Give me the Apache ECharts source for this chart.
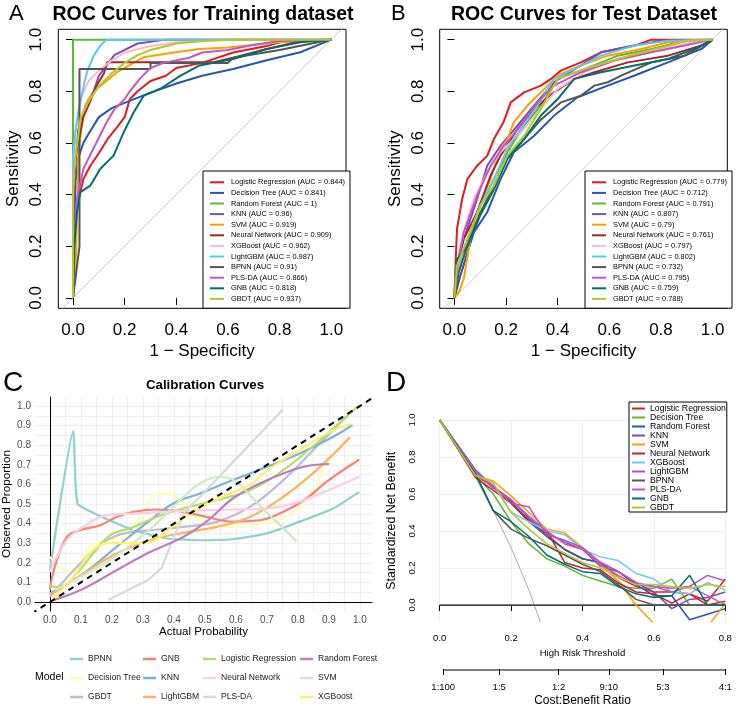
<!DOCTYPE html>
<html>
<head>
<meta charset="utf-8">
<script src="https://cdn.jsdelivr.net/npm/echarts@6/dist/echarts.min.js"></script>
<style>html,body{margin:0;padding:0;background:#fff}#main{width:738px;height:711px}</style>
</head>
<body>
<div id="main"></div>
<script>
// models as listed in the ROC / DCA legends
var models = ['Logistic Regression', 'Decision Tree', 'Random Forest', 'KNN', 'SVM', 'Neural Network',
    'XGBoost', 'LightGBM', 'BPNN', 'PLS-DA', 'GNB', 'GBDT'];
var aucTrain = ['0.844', '0.841', '1', '0.96', '0.919', '0.909', '0.962', '0.987', '0.91', '0.866', '0.818', '0.937'];
var aucTest = ['0.779', '0.712', '0.791', '0.807', '0.79', '0.761', '0.797', '0.802', '0.732', '0.795', '0.759', '0.788'];

// ROC points [1-specificity, sensitivity], same order as models
var rocTrain = [
    [[0,0],[0.005,0.2],[0.015,0.35],[0.04,0.46],[0.066,0.51],[0.1,0.56],[0.137,0.62],[0.17,0.66],[0.2,0.7],[0.22,0.77],[0.25,0.8],[0.3,0.84],[0.36,0.86],[0.4,0.89],[0.5,0.91],[0.62,0.95],[0.75,0.975],[0.82,0.995],[1,1]],
    [[0,0],[0.005,0.3],[0.01,0.45],[0.02,0.54],[0.04,0.6],[0.06,0.635],[0.1,0.7],[0.15,0.735],[0.2,0.755],[0.3,0.795],[0.4,0.83],[0.5,0.86],[0.62,0.886],[0.75,0.92],[0.88,0.951],[1,1]],
    [[0,0],[0,1],[1,1]],
    [[0,0],[0.005,0.45],[0.02,0.65],[0.05,0.75],[0.08,0.8],[0.1,0.86],[0.13,0.9],[0.16,0.94],[0.2,0.96],[0.25,0.985],[0.36,1],[1,1]],
    [[0,0],[0.01,0.1],[0.015,0.3],[0.02,0.55],[0.04,0.72],[0.06,0.77],[0.093,0.81],[0.17,0.874],[0.274,0.932],[0.39,0.95],[0.49,0.964],[0.6,0.97],[0.8,0.99],[1,1]],
    [[0,0],[0,0.5],[0.02,0.6],[0.04,0.7],[0.07,0.77],[0.09,0.82],[0.12,0.87],[0.132,0.912],[0.54,0.912],[0.62,0.93],[0.75,0.964],[0.88,0.994],[1,1]],
    [[0,0],[0,0.4],[0.01,0.65],[0.03,0.77],[0.06,0.84],[0.1,0.88],[0.15,0.92],[0.2,0.95],[0.3,0.975],[0.4,0.99],[0.62,1],[1,1]],
    [[0,0],[0,0.55],[0.009,0.641],[0.022,0.73],[0.041,0.82],[0.054,0.874],[0.08,0.938],[0.106,0.977],[0.13,1],[1,1]],
    [[0,0],[0.025,0.2],[0.025,0.886],[0.3,0.886],[0.3,0.91],[0.6,0.91],[0.62,0.93],[0.8,0.96],[0.9,0.98],[1,1]],
    [[0,0],[0.005,0.2],[0.015,0.38],[0.04,0.5],[0.07,0.56],[0.1,0.62],[0.13,0.68],[0.16,0.73],[0.2,0.77],[0.22,0.8],[0.26,0.85],[0.3,0.89],[0.35,0.91],[0.45,0.93],[0.5,0.95],[0.6,0.96],[0.7,0.98],[0.8,0.995],[1,1]],
    [[0,0],[0.005,0.2],[0.015,0.33],[0.028,0.41],[0.067,0.435],[0.106,0.5],[0.157,0.551],[0.196,0.641],[0.235,0.719],[0.274,0.783],[0.338,0.81],[0.415,0.86],[0.49,0.9],[0.62,0.925],[0.75,0.964],[0.88,0.99],[1,1]],
    [[0,0],[0,0.45],[0.01,0.55],[0.03,0.7],[0.06,0.76],[0.1,0.82],[0.15,0.87],[0.2,0.91],[0.25,0.94],[0.3,0.96],[0.4,0.985],[0.5,0.995],[0.6,1],[1,1]]
];
var rocTest = [
    [[0,0],[0.004,0.125],[0.01,0.267],[0.03,0.383],[0.05,0.46],[0.088,0.512],[0.127,0.55],[0.153,0.615],[0.19,0.68],[0.218,0.757],[0.27,0.796],[0.335,0.822],[0.374,0.848],[0.412,0.88],[0.49,0.912],[0.568,0.951],[0.698,0.977],[0.763,1],[1,1]],
    [[0,0],[0.023,0.086],[0.075,0.254],[0.127,0.332],[0.179,0.46],[0.23,0.564],[0.309,0.628],[0.386,0.706],[0.477,0.777],[0.594,0.822],[0.698,0.861],[0.827,0.912],[0.957,0.964],[1,1]],
    [[0,0],[0.01,0.1],[0.05,0.215],[0.1,0.357],[0.153,0.46],[0.205,0.564],[0.27,0.667],[0.335,0.745],[0.4,0.848],[0.503,0.886],[0.633,0.938],[0.763,0.964],[0.892,0.996],[1,1]],
    [[0,0],[0.004,0.1],[0.036,0.228],[0.088,0.383],[0.127,0.512],[0.179,0.59],[0.244,0.667],[0.309,0.745],[0.386,0.835],[0.49,0.9],[0.568,0.951],[0.698,0.977],[0.8,0.996],[1,1]],
    [[0,0],[0.017,0.022],[0.036,0.074],[0.062,0.228],[0.088,0.332],[0.14,0.46],[0.179,0.577],[0.205,0.615],[0.23,0.68],[0.283,0.745],[0.335,0.796],[0.4,0.861],[0.49,0.9],[0.594,0.938],[0.724,0.964],[0.827,0.99],[1,1]],
    [[0,0],[0.008,0.125],[0.036,0.228],[0.088,0.332],[0.14,0.474],[0.179,0.551],[0.244,0.654],[0.309,0.732],[0.386,0.796],[0.464,0.848],[0.542,0.874],[0.672,0.912],[0.827,0.938],[0.957,0.977],[1,1]],
    [[0,0],[0.008,0.125],[0.036,0.254],[0.075,0.383],[0.127,0.486],[0.179,0.564],[0.257,0.641],[0.335,0.732],[0.4,0.809],[0.503,0.874],[0.633,0.925],[0.8,0.964],[0.957,0.996],[1,1]],
    [[0,0],[0.01,0.1],[0.05,0.228],[0.1,0.357],[0.153,0.46],[0.205,0.577],[0.257,0.654],[0.322,0.745],[0.386,0.848],[0.464,0.886],[0.568,0.938],[0.698,0.977],[0.827,0.996],[1,1]],
    [[0,0],[0.017,0.1],[0.05,0.2],[0.1,0.33],[0.153,0.435],[0.205,0.55],[0.257,0.6],[0.335,0.69],[0.412,0.757],[0.49,0.783],[0.542,0.822],[0.594,0.835],[0.646,0.861],[0.763,0.912],[0.892,0.938],[1,1]],
    [[0,0],[0.008,0.112],[0.036,0.254],[0.088,0.396],[0.14,0.512],[0.192,0.59],[0.257,0.667],[0.322,0.757],[0.386,0.822],[0.49,0.874],[0.62,0.919],[0.763,0.951],[0.892,0.977],[1,1]],
    [[0,0],[0.01,0.15],[0.05,0.2],[0.1,0.32],[0.153,0.42],[0.205,0.538],[0.27,0.615],[0.335,0.706],[0.4,0.77],[0.464,0.848],[0.568,0.874],[0.698,0.9],[0.827,0.925],[0.93,0.964],[1,1]],
    [[0,0],[0.01,0.125],[0.05,0.228],[0.1,0.357],[0.153,0.435],[0.205,0.551],[0.27,0.628],[0.335,0.732],[0.4,0.848],[0.503,0.886],[0.633,0.925],[0.776,0.964],[0.905,0.996],[1,1]]
];
var rocTicks = [0, 0.2, 0.4, 0.6, 0.8, 1];

// calibration curves [predicted, observed], alphabetical like the ggplot legend
var calibModels = ['BPNN', 'Decision Tree', 'GBDT', 'GNB', 'KNN', 'LightGBM', 'Logistic Regression',
    'Neural Network', 'PLS-DA', 'Random Forest', 'SVM', 'XGBoost'];
var calib = [
    [[0,0.163],[0.075,0.872],[0.089,0.503],[0.16,0.44],[0.27,0.366],[0.376,0.324],[0.484,0.315],[0.59,0.32],[0.7,0.35],[0.806,0.41],[0.914,0.477],[0.998,0.562]],
    [[0,0.231],[0.048,0.163],[0.081,0.158],[0.124,0.274],[0.17,0.31],[0.253,0.342],[0.3,0.45],[0.35,0.555],[0.39,0.55],[0.435,0.495],[0.5,0.4],[0.591,0.384],[0.68,0.4],[0.753,0.427],[0.839,0.546],[0.898,0.75]],
    [[0,0.026],[0.108,0.213],[0.183,0.315],[0.247,0.353],[0.323,0.366],[0.43,0.383],[0.538,0.409],[0.645,0.485],[0.753,0.622],[0.86,0.792],[0.957,0.946]],
    [[0,0.063],[0.016,0.18],[0.054,0.33],[0.097,0.366],[0.16,0.39],[0.215,0.434],[0.27,0.46],[0.344,0.472],[0.43,0.46],[0.505,0.434],[0.59,0.41],[0.677,0.417],[0.753,0.46],[0.828,0.528],[0.892,0.613],[0.998,0.727]],
    [[0,0.043],[0.108,0.145],[0.215,0.281],[0.323,0.417],[0.398,0.503],[0.484,0.554],[0.59,0.622],[0.7,0.69],[0.806,0.758],[0.914,0.843],[0.976,0.903]],
    [[0,0.034],[0.108,0.145],[0.215,0.247],[0.323,0.315],[0.43,0.353],[0.538,0.383],[0.645,0.434],[0.753,0.537],[0.86,0.673],[0.968,0.84]],
    [[0,0.08],[0.032,0.077],[0.086,0.145],[0.14,0.247],[0.194,0.34],[0.27,0.383],[0.344,0.434],[0.43,0.477],[0.538,0.52],[0.645,0.57],[0.753,0.673],[0.86,0.81],[0.914,0.886],[0.995,1]],
    [[0,0.153],[0.054,0.315],[0.108,0.383],[0.183,0.443],[0.27,0.451],[0.376,0.46],[0.484,0.468],[0.59,0.472],[0.7,0.477],[0.785,0.502],[0.86,0.545],[0.998,0.639]],
    [[0.188,0.01],[0.317,0.112],[0.36,0.172],[0.403,0.342],[0.435,0.46],[0.5,0.563],[0.753,0.985]],
    [[0.01,0.008],[0.108,0.068],[0.215,0.162],[0.323,0.255],[0.43,0.332],[0.505,0.41],[0.59,0.528],[0.677,0.605],[0.753,0.656],[0.828,0.693],[0.9,0.704]],
    [[0.016,0.06],[0.1,0.13],[0.2,0.22],[0.274,0.308],[0.33,0.38],[0.382,0.46],[0.44,0.55],[0.484,0.605],[0.548,0.639],[0.6,0.615],[0.645,0.546],[0.69,0.47],[0.731,0.41],[0.796,0.308]],
    [[0.011,0.019],[0.08,0.138],[0.134,0.257],[0.19,0.3],[0.27,0.3],[0.33,0.31],[0.4,0.39],[0.484,0.48],[0.59,0.56],[0.645,0.597],[0.7,0.67],[0.806,0.776],[0.914,0.877],[0.973,0.907]]
];
var calibTicks = [0, 0.1, 0.2, 0.3, 0.4, 0.5, 0.6, 0.7, 0.8, 0.9, 1];
var calibGrid = [0, 0.05, 0.1, 0.15, 0.2, 0.25, 0.3, 0.35, 0.4, 0.45, 0.5, 0.55, 0.6, 0.65, 0.7, 0.75, 0.8, 0.85, 0.9, 0.95, 1];

// decision curves: standardized net benefit at each threshold, same order as models
var dcaThresholds = [0, 0.1, 0.15, 0.2, 0.25, 0.3, 0.35, 0.4, 0.45, 0.5, 0.55, 0.6, 0.65, 0.7, 0.75, 0.8];
var dca = [
    [1, 0.70, 0.64, 0.55, 0.46, 0.38, 0.30, 0.25, 0.23, 0.15, 0.10, 0.07, 0.07, 0.06, 0.02, 0.14],
    [1, 0.70, 0.60, 0.45, 0.33, 0.25, 0.21, 0.16, 0.13, 0.10, 0.09, 0.09, 0.14, 0.00, 0.00, 0.00],
    [1, 0.73, 0.64, 0.56, 0.45, 0.37, 0.30, 0.25, 0.23, 0.18, 0.11, 0.05, 0.05, -0.08, -0.05, -0.02],
    [1, 0.73, 0.64, 0.57, 0.47, 0.39, 0.34, 0.30, 0.21, 0.18, 0.12, 0.07, -0.02, 0.03, 0.04, 0.07],
    [1, 0.70, 0.67, 0.59, 0.50, 0.41, 0.39, 0.31, 0.22, 0.13, 0.00, -0.10, -0.30, -0.30, -0.12, 0.01],
    [1, 0.69, 0.62, 0.55, 0.45, 0.40, 0.23, 0.20, 0.19, 0.12, 0.07, 0.06, 0.01, 0.06, 0.00, 0.02],
    [1, 0.72, 0.65, 0.50, 0.45, 0.40, 0.38, 0.30, 0.26, 0.24, 0.17, 0.14, 0.07, 0.06, 0.12, 0.08],
    [1, 0.72, 0.64, 0.55, 0.53, 0.38, 0.35, 0.31, 0.23, 0.18, 0.12, 0.10, 0.09, 0.10, 0.16, 0.13],
    [1, 0.71, 0.51, 0.41, 0.36, 0.32, 0.27, 0.22, 0.18, 0.11, 0.03, 0.00, 0.00, 0.00, 0.00, 0.00],
    [1, 0.72, 0.63, 0.57, 0.48, 0.40, 0.33, 0.30, 0.22, 0.16, 0.11, 0.10, 0.07, 0.10, 0.05, 0.00],
    [1, 0.71, 0.51, 0.45, 0.37, 0.27, 0.22, 0.18, 0.17, 0.10, 0.06, 0.04, 0.05, 0.16, 0.00, 0.00],
    [1, 0.70, 0.66, 0.50, 0.41, 0.33, 0.28, 0.23, 0.20, 0.15, 0.11, 0.11, 0.10, 0.09, 0.11, 0.10]
];
var treatAllX = [0, 0.1, 0.15, 0.2, 0.25, 0.3];
var treatAllY = [1, 0.69, 0.51, 0.31, 0.08, -0.19];
var dcaTicksX = [0, 0.2, 0.4, 0.6, 0.8];
var dcaTicksY = [0, 0.2, 0.4, 0.6, 0.8, 1];
var cbTicks = [0.0099, 0.1667, 0.3333, 0.4737, 0.625, 0.8];
var cbLabels = ['1:100', '1:5', '1:2', '9:10', '5:3', '4:1'];

var rocColors = ['#E41A1C', '#2656B0', '#5DB834', '#7A4DB8', '#FFA000', '#A8232B',
    '#FFB8C8', '#5CC8EC', '#555555', '#C954C5', '#00706E', '#B4C827'];
var dcaColors = ['#E41A1C', '#5DB834', '#2656B0', '#7A4DB8', '#FFA000', '#C4212E',
    '#66CCEE', '#B64FC6', '#555555', '#C954C5', '#00706E', '#B4C827'];
var calibColors = ['#8DD3C7', '#FFFFB3', '#BEBADA', '#FB8072', '#80B1D3', '#FDB462',
    '#B3DE69', '#FCCDE5', '#D9D9D9', '#BC80BD', '#CCEBC5', '#FFED6F'];

var FONT = '"Liberation Sans", Arial, sans-serif';
var chart = echarts.init(document.getElementById('main'));

function fmt1(v) { return v.toFixed(1); }

function rocX(gi) {
    return {
        gridIndex: gi, type: 'value', min: -0.057, max: 1.057,
        axisLine: { show: false },
        axisTick: { customValues: rocTicks, length: 7, lineStyle: { color: '#000' } },
        axisLabel: { customValues: rocTicks, formatter: fmt1, fontSize: 17, color: '#000', margin: 14, fontFamily: FONT },
        splitLine: { show: false },
        name: '1 − Specificity', nameLocation: 'middle', nameGap: 35,
        nameTextStyle: { fontSize: 17, color: '#000', fontFamily: FONT }
    };
}
function rocY(gi) {
    return {
        gridIndex: gi, type: 'value', min: -0.04, max: 1.04,
        axisLine: { show: false },
        axisTick: { customValues: rocTicks, length: 7, lineStyle: { color: '#000' } },
        axisLabel: { customValues: rocTicks, formatter: fmt1, rotate: 90, fontSize: 17, color: '#000', margin: 13, fontFamily: FONT },
        splitLine: { show: false },
        name: 'Sensitivity', nameLocation: 'middle', nameGap: 36,
        nameTextStyle: { fontSize: 17, color: '#000', fontFamily: FONT }
    };
}

var series = [];
var namesA = [], namesB = [], namesD = [];

[[rocTrain, aucTrain, 0, namesA], [rocTest, aucTest, 1, namesB]].forEach(function (p) {
    series.push({
        type: 'line', xAxisIndex: p[2], yAxisIndex: p[2], silent: true, showSymbol: false,
        data: [[-0.06, -0.06], [1.06, 1.06]], lineStyle: { color: '#BEBEBE', width: 0.8 }, z: 1
    });
    models.forEach(function (m, i) {
        var nm = m + ' (AUC = ' + p[1][i] + ')';
        p[3].push(nm);
        series.push({
            name: nm, type: 'line', xAxisIndex: p[2], yAxisIndex: p[2], showSymbol: false,
            data: p[0][i], color: rocColors[i], lineStyle: { width: 2 }, z: 2
        });
    });
});

calibModels.forEach(function (m, i) {
    series.push({
        name: m, type: 'line', xAxisIndex: 2, yAxisIndex: 2, showSymbol: false,
        smooth: m === 'PLS-DA' ? false : (m === 'BPNN' ? 0.15 : 0.4),
        data: calib[i], color: calibColors[i], lineStyle: { width: 2.2 }, z: 2
    });
});
series.push({
    type: 'line', xAxisIndex: 2, yAxisIndex: 2, silent: true, showSymbol: false,
    data: [[-0.06, -0.06], [1.06, 1.06]], lineStyle: { color: '#000', width: 2, type: [6, 5] }, z: 3
});

series.push({
    type: 'line', xAxisIndex: 3, yAxisIndex: 3, silent: true, showSymbol: false,
    data: treatAllX.map(function (x, k) { return [x, treatAllY[k]]; }),
    lineStyle: { color: '#AAAAAA', width: 1 }, z: 1
});
series.push({
    type: 'line', xAxisIndex: 3, yAxisIndex: 3, silent: true, showSymbol: false,
    data: [[0, 0], [0.8, 0]], lineStyle: { color: '#555555', width: 1.5 }, z: 1
});
models.forEach(function (m, i) {
    var nm = 'dca:' + m;
    namesD.push(nm);
    series.push({
        name: nm, type: 'line', xAxisIndex: 3, yAxisIndex: 3, showSymbol: false,
        data: dcaThresholds.map(function (t, k) { return [t, dca[i][k]]; }),
        color: dcaColors[i], lineStyle: { width: 1.5 }, z: 2
    });
});
// cost:benefit axis line, drawn only between first and last tick like R's axis()
series.push({
    type: 'line', xAxisIndex: 4, yAxisIndex: 4, silent: true, showSymbol: false, clip: false,
    data: [[cbTicks[0], -1], [cbTicks[cbTicks.length - 1], -1]], lineStyle: { color: '#000', width: 1 }
});

function rocLegend(names, left) {
    return {
        data: names, orient: 'vertical', left: left, top: 171, icon: 'rect',
        itemWidth: 14, itemHeight: 2, itemGap: 0, padding: [6, 5, 4, 7], selectedMode: false,
        borderColor: '#000', borderWidth: 1, borderRadius: 0, backgroundColor: '#fff', z: 10,
        textStyle: { fontSize: 7.4, lineHeight: 10.6, color: '#000', fontFamily: FONT, padding: [0, 0, 0, 2] }
    };
}
function calibLegend(names, left) {
    return {
        data: names, orient: 'vertical', left: left, top: 653, icon: 'rect',
        itemWidth: 13, itemHeight: 2.5, itemGap: 7, padding: 0, selectedMode: false,
        textStyle: { fontSize: 8.6, lineHeight: 12, color: '#1A1A1A', fontFamily: FONT }
    };
}

var option = {
    animation: false,
    backgroundColor: '#fff',
    title: [
        { text: 'A', left: 9, top: 3, padding: 0, textStyle: { fontSize: 22, fontWeight: 'normal', color: '#000', fontFamily: FONT } },
        { text: 'ROC Curves for Training dataset', left: 203, top: 5, padding: 0, textAlign: 'center',
          textStyle: { fontSize: 19.5, fontWeight: 'bold', color: '#000', fontFamily: FONT } },
        { text: 'B', left: 391, top: 3, padding: 0, textStyle: { fontSize: 22, fontWeight: 'normal', color: '#000', fontFamily: FONT } },
        { text: 'ROC Curves for Test Dataset', left: 584, top: 5, padding: 0, textAlign: 'center',
          textStyle: { fontSize: 19.5, fontWeight: 'bold', color: '#000', fontFamily: FONT } },
        { text: 'C', left: 3, top: 369, padding: 0, textStyle: { fontSize: 28, fontWeight: 'normal', color: '#000', fontFamily: FONT } },
        { text: 'Calibration Curves', left: 205, top: 379, padding: 0, textAlign: 'center',
          textStyle: { fontSize: 13.3, fontWeight: 'bold', color: '#000', fontFamily: FONT } },
        { text: 'D', left: 386, top: 369, padding: 0, textStyle: { fontSize: 28, fontWeight: 'normal', color: '#000', fontFamily: FONT } },
        { text: 'Model', left: 35, top: 672, padding: 0, textStyle: { fontSize: 10.5, fontWeight: 'normal', color: '#000', fontFamily: FONT } }
    ],
    legend: [
        rocLegend(namesA, 203),
        rocLegend(namesB, 585),
        calibLegend(calibModels.slice(0, 3), 70),
        calibLegend(calibModels.slice(3, 6), 143),
        calibLegend(calibModels.slice(6, 9), 203),
        calibLegend(calibModels.slice(9, 12), 300),
        {
            data: namesD, orient: 'vertical', left: 629, top: 402, icon: 'rect',
            itemWidth: 13, itemHeight: 2, itemGap: 0, padding: [2, 1, 0, 3], selectedMode: false,
            borderColor: '#000', borderWidth: 1, backgroundColor: '#fff', z: 10,
            formatter: function (n) { return n.replace('dca:', ''); },
            textStyle: { fontSize: 8.7, lineHeight: 8.55, color: '#000', fontFamily: FONT }
        }
    ],
    grid: [
        { left: 58.3, width: 287.7, top: 29.3, height: 279, show: true, borderColor: '#000', borderWidth: 1, backgroundColor: 'transparent' },
        { left: 439.7, width: 287.6, top: 29.3, height: 279, show: true, borderColor: '#000', borderWidth: 1, backgroundColor: 'transparent' },
        { left: 35, width: 337, top: 397, height: 214 },
        { left: 439.7, width: 285.6, top: 420, height: 201.6 },
        { left: 439.7, width: 285.6, top: 668, height: 2 }
    ],
    xAxis: [
        rocX(0), rocX(1),
        {
            gridIndex: 2, type: 'value', min: -0.048, max: 1.039,
            axisLine: { show: true, lineStyle: { color: '#000', width: 1 } },
            axisTick: { show: false, customValues: calibGrid },
            axisLabel: { customValues: calibTicks, formatter: fmt1, fontSize: 10, color: '#4D4D4D', margin: 4, fontFamily: FONT },
            splitLine: { show: true, lineStyle: { color: '#EBEBEB', width: 0.8 } },
            name: 'Actual Probability', nameLocation: 'middle', nameGap: 15,
            nameTextStyle: { fontSize: 11.5, color: '#000', fontFamily: FONT }
        },
        {
            gridIndex: 3, type: 'value', min: 0, max: 0.8,
            axisLine: { show: true, lineStyle: { color: '#000', width: 1 } },
            axisTick: { customValues: dcaTicksX, length: 6, lineStyle: { color: '#000' } },
            axisLabel: { customValues: dcaTicksX, formatter: fmt1, fontSize: 9.5, color: '#000', margin: 12, fontFamily: FONT },
            splitLine: { show: true, lineStyle: { color: '#F0F0F0', width: 1 } },
            name: 'High Risk Threshold', nameLocation: 'middle', nameGap: 27,
            nameTextStyle: { fontSize: 9.5, color: '#000', fontFamily: FONT }
        },
        {
            gridIndex: 4, type: 'value', min: 0, max: 0.8,
            axisLine: { show: false },
            axisTick: { customValues: cbTicks, length: 6, lineStyle: { color: '#000' } },
            axisLabel: {
                customValues: cbTicks, fontSize: 9.5, color: '#000', margin: 12, fontFamily: FONT,
                formatter: function (v) {
                    for (var k = 0; k < cbTicks.length; k++) if (Math.abs(cbTicks[k] - v) < 1e-6) return cbLabels[k];
                    return '';
                }
            },
            splitLine: { show: false },
            name: 'Cost:Benefit Ratio', nameLocation: 'middle', nameGap: 25,
            nameTextStyle: { fontSize: 12, color: '#000', fontFamily: FONT }
        }
    ],
    yAxis: [
        rocY(0), rocY(1),
        {
            gridIndex: 2, type: 'value', min: -0.046, max: 1.046,
            axisLine: { show: true, lineStyle: { color: '#000', width: 1 } },
            axisTick: { show: false, customValues: calibGrid },
            axisLabel: { customValues: calibTicks, formatter: fmt1, fontSize: 10, color: '#4D4D4D', margin: 4, fontFamily: FONT },
            splitLine: { show: true, lineStyle: { color: '#EBEBEB', width: 0.8 } },
            name: 'Observed Proportion', nameLocation: 'middle', nameGap: 21,
            nameTextStyle: { fontSize: 11.7, color: '#000', fontFamily: FONT }
        },
        {
            gridIndex: 3, type: 'value', min: -0.09, max: 1.0,
            axisLine: { show: false },
            axisTick: { show: false, customValues: dcaTicksY },
            axisLabel: { customValues: dcaTicksY, formatter: fmt1, rotate: 90, fontSize: 9.5, color: '#000', margin: 22, fontFamily: FONT },
            splitLine: { show: true, lineStyle: { color: '#F0F0F0', width: 1 } },
            name: 'Standardized Net Benefit', nameLocation: 'middle', nameGap: 42,
            nameTextStyle: { fontSize: 12.4, color: '#000', fontFamily: FONT }
        },
        {
            gridIndex: 4, type: 'value', min: -1, max: 1, show: false
        }
    ],
    series: series
};

chart.setOption(option);
</script>
</body>
</html>
